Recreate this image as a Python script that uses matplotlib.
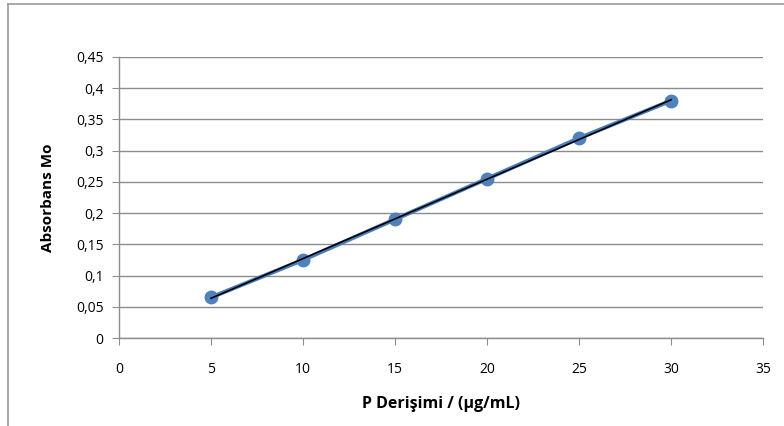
import numpy as np
import matplotlib.pyplot as plt
from matplotlib.lines import Line2D

plt.rcParams['font.family'] = ['Open Sans', 'DejaVu Sans']

# calibration data
konsantrasyon = [5, 10, 15, 20, 25, 30]
absorbans = [0.065, 0.125, 0.19, 0.255, 0.32, 0.38]
y_ticks = [0, 0.05, 0.1, 0.15, 0.2, 0.25, 0.3, 0.35, 0.4, 0.45]
x_ticks = [0, 5, 10, 15, 20, 25, 30, 35]

fig = plt.figure(figsize=(7.84, 4.26), dpi=100)
ax = fig.add_axes([119 / 784, 1 - 338 / 426, 644 / 784, 281 / 426])

# chart area border (left and top only visible)
fig.add_artist(Line2D([7.5 / 784, 7.5 / 784], [0, 1 - 4 / 426], color='#9a9a9a', lw=1.2))
fig.add_artist(Line2D([7.5 / 784, 1], [1 - 4 / 426, 1 - 4 / 426], color='#9a9a9a', lw=1.2))

ax.plot(konsantrasyon, absorbans, color='#4a7ebb', lw=3, marker='o', ms=9,
        markerfacecolor='#4f81bd', markeredgecolor='#4f81bd', zorder=3)

# linear trendline
k, b = np.polyfit(konsantrasyon, absorbans, 1)
xs = np.array([konsantrasyon[0], konsantrasyon[-1]])
ax.plot(xs, k * xs + b, color='black', lw=1.2, zorder=4)

ax.set_xlim(0, 35)
ax.set_ylim(0, 0.45)
ax.set_xticks(x_ticks)
ax.set_yticks(y_ticks)
ax.set_xticklabels([str(v) for v in x_ticks])
ax.set_yticklabels([('%g' % v).replace('.', ',') for v in y_ticks])
ax.yaxis.grid(True, color='#8c8c8c', lw=1)
ax.set_axisbelow(True)

for s in ['top', 'right']:
    ax.spines[s].set_visible(False)
for s in ['left', 'bottom']:
    ax.spines[s].set_color('#8c8c8c')
    ax.spines[s].set_linewidth(1)
ax.tick_params(axis='both', colors='#8c8c8c', labelcolor='black', labelsize=10, length=5)
ax.tick_params(axis='y', pad=6)
ax.tick_params(axis='x', pad=12)

ax.set_xlabel('P Derişimi / (µg/mL)', fontsize=11.5, fontweight='bold', labelpad=14)
ax.set_ylabel('Absorbans Mo', fontsize=11, fontweight='bold', labelpad=15)

fig.savefig('out.png', dpi=100)
